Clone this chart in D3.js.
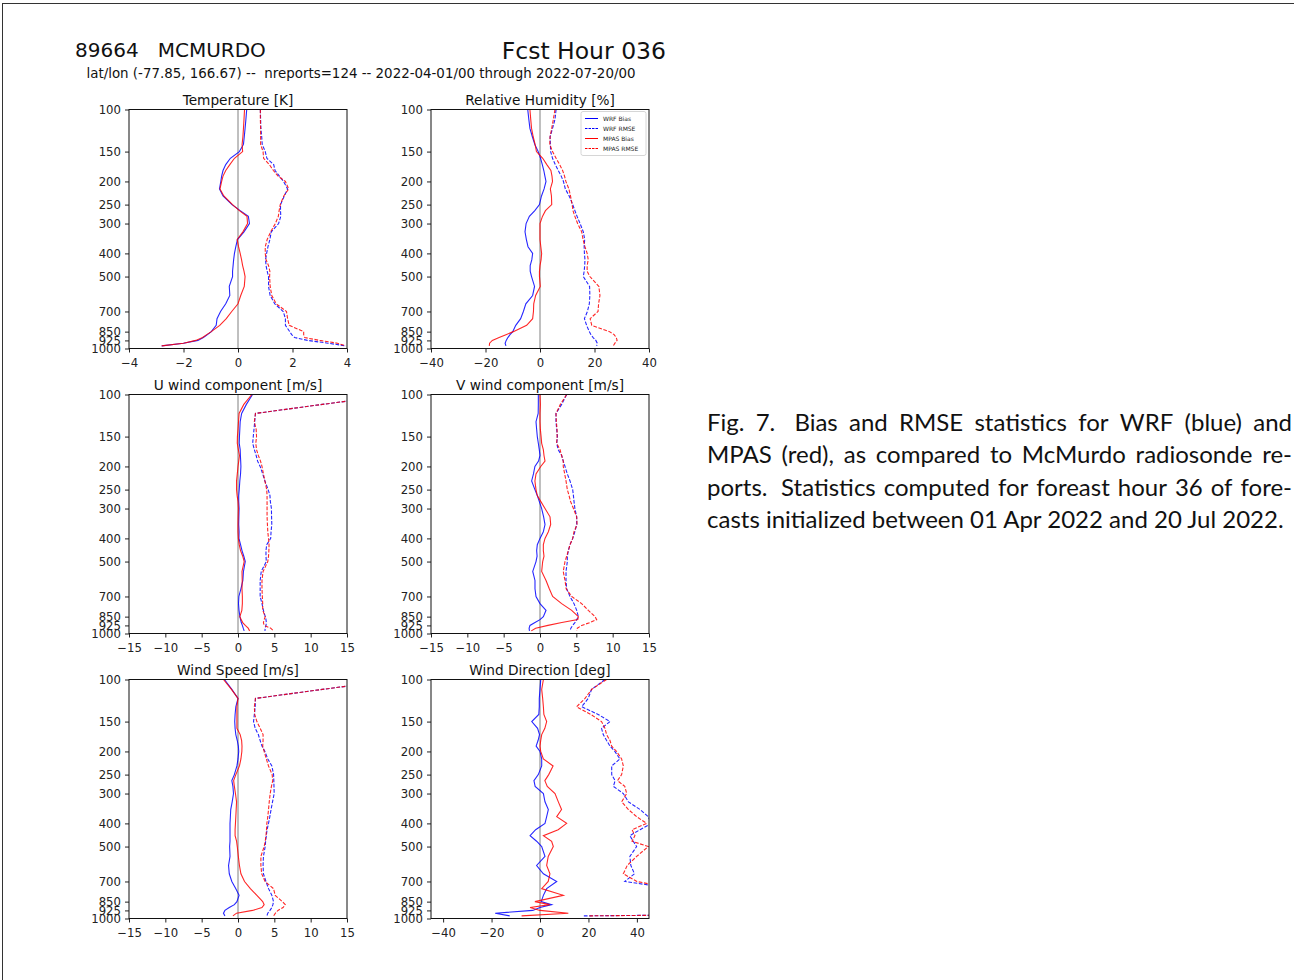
<!DOCTYPE html>
<html>
<head>
<meta charset="utf-8">
<script src="https://cdn.jsdelivr.net/npm/d3@7"></script>
<style>
body { margin: 0; background: #fff; }
svg text { font-family: "DejaVu Sans", sans-serif; fill: #222; }
</style>
</head>
<body>
<svg id="chart" width="1294" height="980"></svg>
<script>
// pressure levels [hPa], shared by every profile
var levels = [100, 110, 120, 130, 140, 150, 160, 170, 180, 190,
              200, 215, 230, 250, 265, 280, 300, 325, 350, 375,
              400, 425, 450, 475, 500, 550, 600, 650, 700, 750,
              800, 850, 875, 900, 925, 950, 975];
var pTicks = [100, 150, 200, 250, 300, 400, 500, 700, 850, 925, 1000];

// Temperature [K]
var tWrfBias  = [0.32, 0.29, 0.26, 0.23, 0.2, 0.05, -0.28, -0.45, -0.55, -0.6,
                 -0.63, -0.68, -0.55, -0.22, 0.08, 0.38, 0.42, 0.22, -0.02, -0.08,
                 -0.13, -0.16, -0.18, -0.2, -0.2, -0.32, -0.3, -0.45, -0.64, -0.77,
                 -0.8, -0.98, -1.12, -1.27, -1.47, -2.0, -2.8];
var tWrfRmse  = [0.82, 0.83, 0.84, 0.87, 0.89, 1.0, 1.06, 1.31, 1.36, 1.52,
                 1.67, 1.82, 1.7, 1.56, 1.56, 1.57, 1.49, 1.22, 1.17, 1.1,
                 1.05, 1.01, 1.03, 1.07, 1.12, 1.12, 1.18, 1.35, 1.66, 1.74,
                 1.74, 1.9, 1.97, 2.08, 2.55, 3.3, 3.95];
var tMpasBias = [0.24, 0.22, 0.2, 0.18, 0.15, 0.17, -0.13, -0.3, -0.45, -0.55,
                 -0.6, -0.66, -0.52, -0.2, 0.05, 0.33, 0.35, 0.18, -0.03, 0.02,
                 0.08, 0.13, 0.17, 0.22, 0.26, 0.23, 0.1, 0.0, -0.23, -0.43,
                 -0.67, -0.98, -1.15, -1.3, -1.55, -2.0, -2.8];
var tMpasRmse = [0.82, 0.82, 0.83, 0.83, 0.83, 0.92, 0.94, 1.15, 1.3, 1.47,
                 1.74, 1.86, 1.68, 1.55, 1.51, 1.48, 1.37, 1.2, 1.07, 1.0,
                 1.0, 1.03, 1.12, 1.17, 1.16, 1.18, 1.24, 1.4, 1.78, 1.82,
                 1.88, 2.41, 2.41, 2.45, 3.0, 3.65, 3.95];

// Relative humidity [%]
var rhWrfBias  = [-4.5, -4.1, -3.7, -2.8, -1.9, -0.65, 0.2, 0.85, 1.4, 1.8,
                  2.2, 1.5, 0.55, -0.2, -1.9, -3.9, -5.1, -5.5, -5.0, -4.4,
                  -2.7, -3.0, -3.6, -3.6, -3.1, -2.0, -2.7, -5.2, -6.1, -7.1,
                  -8.9, -10, -11, -11.8, -12.4, -12.8, -12.5];
var rhWrfRmse  = [5.9, 5.5, 4.6, 3.7, 3.8, 3.9, 4.6, 5.6, 6.7, 7.8,
                  8.6, 9.3, 10.7, 12.0, 12.8, 13.6, 14.7, 15.9, 16.4, 16.2,
                  16.3, 16.5, 16.4, 16.2, 15.9, 18.2, 18.3, 18.1, 17.4, 16.3,
                  17.1, 18.1, 18.7, 19.5, 20.5, 21.0, 20.8];
var rhMpasBias = [-3.7, -3.4, -3.1, -2.5, -1.8, -1.3, 1.0, 2.5, 4.0, 4.4,
                  4.6, 3.8, 4.2, 4.3, 2.0, 0.9, 0, 0, 0, 0.3,
                  0.6, 0.4, 0.0, -0.2, -0.2, 0.1, -1.6, -2.3, -2.4, -2.7,
                  -4.9, -9.8, -12.5, -15, -17.5, -18.5, -18.6];
var rhMpasRmse = [5.5, 4.9, 4.3, 3.7, 3.6, 4.6, 5.9, 7.2, 8.3, 9.0,
                  9.5, 10.6, 11.2, 11.8, 12.1, 12.8, 13.8, 15.3, 15.8, 16.5,
                  17.3, 17.7, 17.3, 17.3, 18.3, 21.6, 22.0, 21.5, 21.3, 18.4,
                  19.0, 25.5, 27.2, 28.0, 28.3, 27.5, 26.9];

// U wind component [m/s]
var uWrfBias  = [2.0, 1.15, 0.5, 0.3, 0.25, 0.2, 0.17, 0.3, 0.33, 0.37,
                 0.4, 0.35, 0.25, 0.17, 0.1, 0.1, 0.15, 0.12, 0.1, 0.15,
                 0.13, 0.35, 0.55, 0.8, 1.0, 0.75, 0.67, 0.4, 0.12, 0.07,
                 0.14, 0.26, 0.35, 0.45, 0.6, 0.72, 0.85];
var uWrfRmse  = [22, 11.6, 2.4, 2.3, 2.2, 2.1, 2.02, 2.25, 2.5, 2.7,
                 3.05, 3.4, 3.7, 4.15, 4.4, 4.45, 4.6, 4.62, 4.65, 4.55,
                 4.5, 3.95, 3.85, 3.85, 3.9, 3.2, 3.05, 3.05, 3.05, 3.3,
                 3.5, 3.75, 3.85, 3.9, 3.85, 3.75, 3.7];
var uMpasBias = [1.9, 0.8, 0.15, 0.07, 0, -0.08, -0.1, 0.05, 0.2, 0.1,
                 0.0, -0.1, -0.2, -0.2, -0.12, 0.0, 0.05, 0.02, 0, 0.0,
                 0.05, 0.17, 0.35, 0.65, 0.85, 0.55, 0.58, 0.55, 0.6, 0.6,
                 0.53, 0.25, 0.45, 0.65, 1.0, 1.4, 1.6];
var uMpasRmse = [22, 11.6, 2.4, 2.25, 2.5, 2.55, 2.45, 2.55, 2.8, 3.1,
                 3.3, 3.5, 3.7, 3.95, 4.0, 4.0, 4.0, 4.0, 4.05, 4.1,
                 4.2, 4.27, 4.25, 4.2, 4.1, 3.45, 3.3, 3.3, 3.35, 3.4,
                 3.4, 3.75, 3.6, 3.5, 3.6, 4.5, 4.9];

// V wind component [m/s]
var vWrfBias  = [-0.23, -0.23, -0.25, -0.55, -0.46, -0.37, -0.23, -0.1, 0, -0.2,
                 -0.7, -0.9, -1.15, -0.7, -0.37, -0.1, 0.23, 0.5, 0.69, 0.46,
                 0, -0.37, -0.46, -0.4, -0.55, -1.0, -0.69, -0.69, -0.55, 0,
                 0.83, 0.46, 0, -0.69, -1.38, -1.5, -1.45];
var vWrfRmse  = [3.67, 2.98, 2.2, 2.2, 2.3, 2.4, 2.3, 2.5, 2.98, 3.2,
                 3.44, 3.76, 4.13, 4.5, 4.6, 4.68, 4.8, 5.05, 5.05, 4.8,
                 4.5, 4.13, 3.9, 3.76, 3.76, 3.58, 3.58, 3.67, 4.13, 4.68,
                 5.05, 5.28, 5.05, 4.8, 4.5, 4.25, 4.13];
var vMpasBias = [0, 0.05, 0, 0, 0.05, 0.15, 0.23, 0.46, 0.55, 0.69,
                 0.1, -0.55, -0.7, -0.55, -0.37, 0.1, 0.69, 1.38, 1.47, 1.15,
                 0.69, 0.46, 0.46, 0.55, 0.37, 0.23, 0.83, 1.28, 1.74, 2.98,
                 4.36, 5.28, 5.2, 3.0, 1.1, -0.6, -1.2];
var vMpasRmse = [3.67, 2.8, 2.2, 2.25, 2.35, 2.35, 2.3, 2.75, 2.98, 3.2,
                 3.2, 3.4, 3.58, 3.76, 4.0, 4.2, 4.6, 5.05, 5.1, 4.68,
                 4.5, 4.13, 3.9, 3.67, 3.44, 3.2, 3.44, 3.6, 4.36, 5.73,
                 6.65, 7.57, 7.8, 6.88, 5.73, 5.14, 5.05];

// Wind speed [m/s]
var wsWrfBias  = [-1.86, -0.85, 0, -0.3, -0.4, -0.45, -0.4, -0.3, -0.1, 0.05,
                  0.1, 0, -0.15, -0.5, -0.85, -0.7, -0.62, -0.8, -1.0, -1.05,
                  -1.1, -1.1, -1.1, -1.1, -1.15, -1.1, -1.3, -1.2, -0.85, -0.3,
                  0.15, -0.15, -0.5, -1.2, -1.8, -2.0, -1.8];
var wsWrfRmse  = [22, 11.6, 2.4, 2.37, 2.25, 2.14, 2.37, 2.8, 3.05, 3.3,
                  3.7, 4.1, 4.66, 4.9, 4.93, 4.95, 4.98, 4.75, 4.55, 4.38,
                  4.2, 4.0, 3.9, 3.8, 3.74, 3.5, 3.45, 3.5, 3.85, 4.2,
                  4.66, 4.89, 4.8, 4.66, 4.4, 4.1, 3.97];
var wsMpasBias = [-2.0, -0.9, 0, -0.15, -0.15, -0.15, -0.15, 0.3, 0.5, 0.55,
                  0.53, 0.4, 0.2, -0.3, -0.6, -0.5, -0.35, -0.2, -0.25, -0.3,
                  -0.35, -0.4, -0.4, -0.2, -0.1, 0.05, 0.2, 0.4, 0.9, 1.7,
                  2.6, 3.4, 3.6, 3.3, 2.0, -0.2, -0.7];
var wsMpasRmse = [22, 11.6, 2.4, 2.25, 2.3, 2.6, 3.05, 3.45, 3.45, 3.4,
                  3.6, 3.9, 4.2, 4.7, 4.78, 4.6, 4.43, 4.3, 4.2, 4.1,
                  3.97, 3.92, 3.85, 3.75, 3.6, 3.15, 3.15, 3.26, 3.72, 4.89,
                  5.12, 6.1, 6.5, 6.2, 5.5, 5.15, 4.9];

// Wind direction [deg]
var wdWrfBias  = [0.3, 0, -0.3, -0.3, -0.5, -3.4, -1.0, -0.2, -0.8, -1.6,
                  0, 0.7, 0.7, -0.7, -2.5, -2.0, 1.4, 2.06, 3.44, 2.75,
                  2.06, -1.8, -4.1, -1.4, 0.7, 2.06, -1.4, 1.4, 6.9, 2.75,
                  1.4, 0.5, 4.8, 0, -3, -18.5, -12.5];
var wdWrfRmse  = [26.8, 21.3, 19.9, 17.2, 24, 28.9, 25.4, 26.1, 27.5, 28.9,
                  30.9, 33, 29.6, 29.6, 31, 30.3, 34.4, 36.5, 41.3, 44.7,
                  46, 41.3, 37.1, 38.5, 39.9, 37.1, 37.5, 39, 35, 55,
                  70, 80, 85, 90, 100, 150, 18];
var wdMpasBias = [1.4, 0.7, 1.1, 1.4, 1.6, 2.75, 2.0, 0.7, 0.3, 0,
                  0.3, 1.4, 5.4, 3.6, 2.0, 3.0, 6.2, 7.57, 8.9, 6.9,
                  11, 7.5, 1.4, 4.8, 5.5, 3.4, 2.75, 4.1, 3.4, 0.7,
                  9.6, -2.1, 4.0, -4.1, 0, 11.7, -7.6];
var wdMpasRmse = [27.5, 21.3, 18.6, 15.1, 21, 25.4, 26.8, 27.5, 28.9, 29.6,
                  31.6, 33.7, 34.4, 33.7, 32, 35, 35.8, 33.7, 36.5, 39.9,
                  44, 38, 39.2, 38, 44.7, 39.9, 36, 34.4, 40, 55,
                  70, 80, 85, 90, 100, 150, 20];

var header = {
    station: "89664   MCMURDO",
    fcst: "Fcst Hour 036",
    sub: "lat/lon (-77.85, 166.67) --  nreports=124 -- 2022-04-01/00 through 2022-07-20/00"
};
var captionLines = [
    "Fig. 7.  Bias and RMSE statistics for WRF (blue) and",
    "MPAS (red), as compared to McMurdo radiosonde re-",
    "ports.  Statistics computed for foreast hour 36 of fore-",
    "casts initialized between 01 Apr 2022 and 20 Jul 2022."
];
var legendLabels = ["WRF Bias", "WRF RMSE", "MPAS Bias", "MPAS RMSE"];

var panels = [
    {title: "Temperature [K]", row: 0, col: 0, domain: [-4, 4], ticks: [-4, -2, 0, 2, 4],
     series: [tWrfBias, tWrfRmse, tMpasBias, tMpasRmse]},
    {title: "Relative Humidity [%]", row: 0, col: 1, domain: [-40, 40], ticks: [-40, -20, 0, 20, 40],
     series: [rhWrfBias, rhWrfRmse, rhMpasBias, rhMpasRmse], legend: true},
    {title: "U wind component [m/s]", row: 1, col: 0, domain: [-15, 15], ticks: [-15, -10, -5, 0, 5, 10, 15],
     series: [uWrfBias, uWrfRmse, uMpasBias, uMpasRmse]},
    {title: "V wind component [m/s]", row: 1, col: 1, domain: [-15, 15], ticks: [-15, -10, -5, 0, 5, 10, 15],
     series: [vWrfBias, vWrfRmse, vMpasBias, vMpasRmse]},
    {title: "Wind Speed [m/s]", row: 2, col: 0, domain: [-15, 15], ticks: [-15, -10, -5, 0, 5, 10, 15],
     series: [wsWrfBias, wsWrfRmse, wsMpasBias, wsMpasRmse]},
    {title: "Wind Direction [deg]", row: 2, col: 1, domain: [-45, 45], ticks: [-40, -20, 0, 20, 40],
     series: [wdWrfBias, wdWrfRmse, wdMpasBias, wdMpasRmse]}
];

var styles = [
    {color: "#0000ff", dash: null},
    {color: "#0000ff", dash: "3.7,1.6"},
    {color: "#ff0000", dash: null},
    {color: "#ff0000", dash: "3.7,1.6"}
];

var colLeft = [129, 431], rowTop = [109.5, 394.5, 679.5];
var axW = 218, axH = 239;

var svg = d3.select("#chart");

// page frame (only top and left edges fall inside the window)
svg.append("rect")
    .attr("x", 2.5).attr("y", 3.5)
    .attr("width", 1400).attr("height", 1100)
    .style("fill", "none").style("stroke", "#333").style("stroke-width", 1);

// header
svg.append("text").attr("x", 75).attr("y", 57)
    .style("font-size", "20px").style("fill", "#111")
    .attr("xml:space", "preserve").text(header.station);
svg.append("text").attr("x", 666).attr("y", 59)
    .style("font-size", "23.5px").style("fill", "#111")
    .style("text-anchor", "end").text(header.fcst);
svg.append("text").attr("x", 361).attr("y", 78)
    .style("font-size", "13.4px").style("fill", "#111")
    .style("text-anchor", "middle").attr("xml:space", "preserve").text(header.sub);

var fmt = function(d) { return d < 0 ? "\u2212" + Math.abs(d) : String(d); };

panels.forEach(function(p, i) {
    var left = colLeft[p.col], top = rowTop[p.row];
    var x = d3.scaleLinear().domain(p.domain).range([left, left + axW]);
    var y = d3.scaleLog().domain([100, 1000]).range([top, top + axH]);

    var g = svg.append("g");

    svg.append("clipPath").attr("id", "clip" + i)
        .append("rect")
        .attr("x", left).attr("y", top)
        .attr("width", axW).attr("height", axH);

    // zero line
    g.append("line")
        .attr("x1", x(0)).attr("x2", x(0))
        .attr("y1", top).attr("y2", top + axH)
        .style("stroke", "#808080").style("stroke-width", 1);

    var line = d3.line()
        .x(function(d) { return x(d[1]); })
        .y(function(d) { return y(d[0]); });

    p.series.forEach(function(vals, k) {
        var pts = levels.map(function(lev, j) { return [lev, vals[j]]; });
        g.append("path")
            .datum(pts)
            .attr("clip-path", "url(#clip" + i + ")")
            .attr("d", line)
            .style("fill", "none")
            .style("stroke", styles[k].color)
            .style("stroke-opacity", 0.85)
            .style("stroke-width", 1.1)
            .style("stroke-dasharray", styles[k].dash);
    });

    // axes
    var yAxis = g.append("g")
        .attr("transform", "translate(" + left + ",0)")
        .call(d3.axisLeft(y).tickValues(pTicks).tickFormat(d3.format("d"))
            .tickSize(4).tickPadding(4).tickSizeOuter(0));
    var xAxis = g.append("g")
        .attr("transform", "translate(0," + (top + axH) + ")")
        .call(d3.axisBottom(x).tickValues(p.ticks).tickFormat(fmt)
            .tickSize(4).tickPadding(6.5).tickSizeOuter(0));
    [xAxis, yAxis].forEach(function(a) {
        a.select(".domain").remove();
        a.selectAll("text").style("font-size", "11.7px").style("font-family", "DejaVu Sans").style("fill", "#222");
        a.selectAll("line").style("stroke", "#222");
    });

    g.append("rect")
        .attr("x", left).attr("y", top)
        .attr("width", axW).attr("height", axH)
        .style("fill", "none").style("stroke", "#111").style("stroke-width", 1);

    g.append("text")
        .attr("x", left + axW / 2).attr("y", top - 5)
        .style("text-anchor", "middle").style("font-size", "13.7px").style("fill", "#111")
        .text(p.title);

    if (p.legend) {
        var lg = g.append("g").attr("transform", "translate(" + (left + axW - 68) + "," + (top + 2) + ")");
        lg.append("rect").attr("width", 65).attr("height", 44).attr("rx", 2)
            .style("fill", "#fff").style("fill-opacity", 0.8)
            .style("stroke", "#ccc").style("stroke-width", 0.8);
        legendLabels.forEach(function(lab, k) {
            var yy = 7 + k * 10;
            lg.append("line").attr("x1", 4).attr("x2", 17).attr("y1", yy).attr("y2", yy)
                .style("stroke", styles[k].color).style("stroke-width", 1)
                .style("stroke-dasharray", styles[k].dash ? "2.5,1" : null);
            lg.append("text").attr("x", 22).attr("y", yy + 2)
                .style("font-size", "6px").style("fill", "#222").text(lab);
        });
    }
});

// caption, justified between 707 and 1292
var capLeft = 707, capRight = 1292, capBase = 431, capStep = 32.4;
var cap = svg.append("g");
captionLines.forEach(function(ln, li) {
    var yy = capBase + li * capStep;
    var last = li === captionLines.length - 1;
    if (last) {
        cap.append("text").attr("x", capLeft).attr("y", yy)
            .style("font-family", "Lato, sans-serif").style("font-size", "24px").style("fill", "#111")
            .text(ln);
        return;
    }
    var words = ln.split(/ +/);
    var gaps = [];
    ln.replace(/ +/g, function(m) { gaps.push(m.length > 1 ? 1.7 : 1); return m; });
    var nodes = words.map(function(w) {
        return cap.append("text").attr("y", yy)
            .style("font-family", "Lato, sans-serif").style("font-size", "24px").style("fill", "#111")
            .text(w);
    });
    var widths = nodes.map(function(n) { return n.node().getComputedTextLength(); });
    var unit = (capRight - capLeft - d3.sum(widths)) / d3.sum(gaps);
    var xx = capLeft;
    nodes.forEach(function(n, k) {
        n.attr("x", xx);
        xx += widths[k] + (k < gaps.length ? gaps[k] * unit : 0);
    });
});
</script>
</body>
</html>
